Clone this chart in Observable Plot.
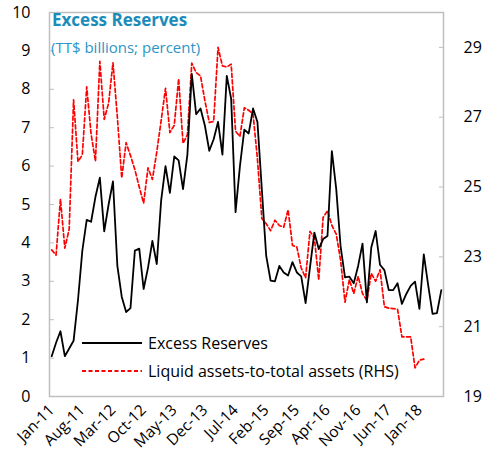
<!DOCTYPE html>
<html>
<head>
<meta charset="utf-8">
<script src="https://cdn.jsdelivr.net/npm/d3@7"></script>
<script src="https://cdn.jsdelivr.net/npm/@observablehq/plot@0.6"></script>
<style>
  html, body { margin: 0; padding: 0; background: #fff; }
  #wrap { position: relative; width: 486px; height: 466px; font-family: "Open Sans", sans-serif; }
  #title { position: absolute; left: 52px; top: 8px; font-size: 17px; font-weight: bold; color: #1b8cba; white-space: nowrap; }
  #subtitle { position: absolute; left: 51px; top: 37px; font-size: 15px; color: #2b95c5; white-space: nowrap; }
  .leg { position: absolute; left: 82px; font-size: 16px; color: #000; white-space: nowrap; display: flex; align-items: center; }
  .leg svg { margin-right: 6px; }
</style>
</head>
<body>
<div id="wrap">
  <div id="chart"></div>
  <div id="title">Excess Reserves</div>
  <div id="subtitle">(TT$ billions; percent)</div>
  <div class="leg" style="top:332px"><svg width="60" height="4"><line x1="0" y1="2" x2="60" y2="2" stroke="#000" stroke-width="1.8"/></svg>Excess Reserves</div>
  <div class="leg" style="top:360px"><svg width="60" height="4"><line x1="0" y1="2" x2="60" y2="2" stroke="#ff0000" stroke-width="1.8" stroke-dasharray="4,2.5"/></svg>Liquid assets-to-total assets (RHS)</div>
</div>
<script>
// Monthly data, Jan-11 .. Jun-18 (index 0 = Jan-11)
const excessReserves = [
  1.05,1.4,1.7,1.05,1.25,1.45,2.5,3.8,4.6,4.55,
  5.2,5.7,4.3,5.0,5.6,3.4,2.6,2.2,2.3,3.8,
  3.85,2.8,3.35,4.05,3.45,5.1,6.0,5.3,6.25,6.15,
  5.4,6.3,8.4,7.35,7.5,7.05,6.4,6.7,7.15,6.3,
  8.35,7.75,4.8,6.0,6.95,6.85,7.5,7.15,5.4,3.66,
  3.02,3.0,3.4,3.23,3.15,3.5,3.23,3.13,2.43,3.36,
  4.27,3.84,4.1,4.18,6.39,5.4,3.9,3.1,3.12,2.95,
  3.4,3.98,2.45,3.88,4.31,3.43,3.29,2.77,2.77,2.95,
  2.41,2.67,2.88,2.99,2.28,3.7,2.9,2.15,2.17,2.77
];
// Liquid assets-to-total assets (percent, RHS), Jan-11 .. Feb-18
const liquidRatio = [
  23.2,23.05,24.65,23.25,23.8,27.5,25.73,25.92,27.87,26.52,
  25.74,28.6,26.94,27.4,28.56,27.0,25.26,26.27,25.9,25.5,
  25.0,24.54,25.55,25.22,26.0,26.9,27.83,26.56,26.77,28.1,
  26.25,26.5,28.55,28.28,28.18,27.47,26.85,26.88,29.0,28.47,
  28.44,28.52,26.6,26.45,27.27,27.2,27.09,25.8,24.1,23.95,
  23.75,24.05,23.9,23.85,24.35,23.33,23.28,22.68,22.4,23.73,
  23.55,22.34,24.13,24.32,23.9,23.65,22.9,21.7,22.35,21.95,
  22.44,21.95,21.75,22.53,22.3,22.63,21.57,21.53,21.52,21.5,
  20.71,20.71,20.71,19.82,20.04,20.07
];
const xTickLabels = ["Jan-11","Aug-11","Mar-12","Oct-12","May-13","Dec-13","Jul-14","Feb-15","Sep-15","Apr-16","Nov-16","Jun-17","Jan-18"];
const xTickIndex = [0,7,14,21,28,35,42,49,56,63,70,77,84];
const leftTicks = [0,1,2,3,4,5,6,7,8,9,10];
const rightTicks = [19,21,23,25,27,29];
const leftDomain = [0, 10];
const rightDomain = [19, 30];

const toLeft = r => leftDomain[0] + (r - rightDomain[0]) * (leftDomain[1] - leftDomain[0]) / (rightDomain[1] - rightDomain[0]);
const fromLeft = v => rightDomain[0] + (v - leftDomain[0]) * (rightDomain[1] - rightDomain[0]) / (leftDomain[1] - leftDomain[0]);

const gray = "#bfbfbf";
const chart = Plot.plot({
  width: 486,
  height: 466,
  marginLeft: 49,
  marginRight: 43,
  marginTop: 12,
  marginBottom: 70,
  style: { fontFamily: "'Open Sans', sans-serif", fontSize: "16px", color: "#000", background: "#fff" },
  x: { domain: [-0.5, excessReserves.length - 0.5], axis: null },
  y: { domain: leftDomain, axis: null },
  marks: [
    Plot.frame({ stroke: gray, strokeWidth: 1.5 }),
    Plot.axisY(leftTicks, { anchor: "left", tickSize: 0, tickPadding: 19, label: null, fontSize: 16 }),
    Plot.axisY(leftTicks, { anchor: "left", tickSize: 5, dx: 5, fill: "none", stroke: gray, label: null }),
    Plot.axisY(rightTicks.map(toLeft), { anchor: "right", tickSize: 0, tickPadding: 20, label: null, fontSize: 16,
      tickFormat: d => String(Math.round(fromLeft(d))) }),
    Plot.axisY(rightTicks.map(toLeft), { anchor: "right", tickSize: 5, dx: -5, fill: "none", stroke: gray, label: null }),
    Plot.axisX(xTickIndex, { anchor: "bottom", tickSize: 0, tickPadding: 11, tickRotate: -45, label: null, fontSize: 15.5,
      tickFormat: d => xTickLabels[xTickIndex.indexOf(d)] }),
    Plot.line(liquidRatio, { x: (d, i) => i, y: d => toLeft(d), stroke: "#ff0000", strokeWidth: 1.7, strokeDasharray: "4,2.5" }),
    Plot.line(excessReserves, { x: (d, i) => i, y: d => d, stroke: "#000", strokeWidth: 1.8 })
  ]
});
document.getElementById("chart").appendChild(chart);
</script>
</body>
</html>
